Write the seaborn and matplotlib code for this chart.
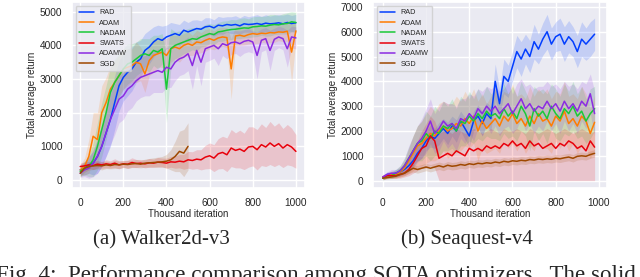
import numpy as np
import pandas as pd
import seaborn as sns
import matplotlib.pyplot as plt

# optimizer names + colours (seaborn "bright")
optims = ['RAD', 'ADAM', 'NADAM', 'SWATS', 'ADAMW', 'SGD']
palette = dict(zip(optims, sns.color_palette('bright', 6)))

# ---------------- Walker2d-v3 (x every 20k iterations) ----------------
x_walker = list(range(0, 1001, 20))
walker_rad = [300, 350, 450, 500, 700, 1000, 1400, 1800, 2300, 2800, 3050, 3200, 3300, 3500, 3600,
              3850, 3950, 4100, 4200, 4150, 4250, 4300, 4350, 4300, 4450, 4400, 4450, 4500, 4480, 4550,
              4570, 4520, 4600, 4580, 4620, 4600, 4620, 4580, 4640, 4620, 4630, 4650, 4620, 4660, 4640,
              4650, 4670, 4640, 4680, 4650, 4670]
walker_adam = [300, 400, 700, 1300, 1200, 2000, 2300, 2700, 2900, 3100, 3300, 3350, 3400, 3500, 3450,
               3150, 3550, 3700, 3750, 3800, 3700, 3900, 3950, 3900, 4000, 4050, 4000, 4100, 4080, 4150,
               4200, 4150, 4220, 4250, 4230, 3300, 4280, 4300, 4270, 4320, 4350, 4330, 4360, 4350, 4380,
               4370, 4400, 4390, 4420, 3800, 4430]
walker_nadam = [250, 350, 400, 600, 1000, 1500, 2000, 2600, 2900, 3100, 3300, 3450, 3500, 3600, 3700,
                3750, 3700, 3850, 3800, 3900, 2700, 3900, 4000, 4050, 4100, 4150, 4200, 4180, 4250, 4300,
                4350, 4320, 4400, 4420, 4450, 4470, 4480, 4500, 4520, 4510, 4550, 4560, 4580, 4570, 4600,
                4620, 4610, 4640, 4650, 4700, 4680]
walker_swats = [400, 420, 450, 430, 470, 450, 480, 460, 500, 450, 480, 470, 520, 490, 500,
                480, 510, 500, 530, 520, 500, 540, 530, 560, 540, 600, 580, 620, 600, 680,
                720, 650, 780, 820, 750, 950, 880, 920, 850, 980, 1000, 900, 1050, 980, 1100,
                1000, 1080, 950, 1050, 980, 850]
walker_adamw = [200, 300, 350, 500, 700, 1000, 1400, 1800, 2100, 2400, 2500, 2700, 2800, 2950, 3050,
                3100, 3150, 3200, 3250, 3200, 3350, 3300, 3500, 3600, 3650, 3750, 3400, 3850, 3500, 3900,
                3950, 4000, 3900, 4050, 4000, 4080, 4100, 4050, 4120, 4150, 4100, 3700, 4150, 4200, 3850,
                4180, 4250, 4200, 3900, 4250, 4220]
walker_sgd = [200, 350, 400, 420, 430, 420, 450, 430, 460, 450, 470, 460, 480, 490, 470,
              500, 510, 520, 530, 540, 560, 600, 700, 850, 800, 1000]

# half-width of the shaded runs
walker_rad_sd = [150, 200, 250, 350, 500, 600, 700, 800, 800, 750, 700, 700, 650, 600, 550,
                 500, 500, 450, 400, 420, 350, 380, 300, 320, 300, 280, 300, 260, 250, 270,
                 250, 240, 260, 250, 230, 250, 260, 240, 250, 230, 250, 260, 240, 250, 230,
                 250, 240, 260, 250, 240, 250]
walker_adam_sd = [150, 250, 500, 700, 800, 800, 750, 700, 650, 600, 600, 550, 500, 600, 500,
                  550, 450, 500, 400, 450, 500, 400, 350, 400, 350, 350, 300, 350, 300, 320,
                  300, 280, 300, 280, 300, 900, 280, 300, 260, 280, 300, 280, 260, 280, 300,
                  280, 260, 280, 300, 900, 280]
walker_nadam_sd = [150, 200, 300, 500, 700, 800, 800, 750, 700, 650, 600, 600, 550, 500, 500,
                   450, 500, 450, 500, 450, 1000, 600, 400, 380, 350, 350, 330, 350, 300, 320,
                   300, 300, 280, 300, 280, 300, 280, 300, 300, 280, 300, 300, 280, 300, 320,
                   300, 280, 300, 320, 300, 300]
walker_swats_sd = [100, 120, 100, 120, 110, 100, 120, 110, 130, 120, 100, 120, 140, 120, 110,
                   120, 130, 120, 140, 130, 150, 160, 180, 200, 220, 250, 260, 280, 300, 350,
                   380, 400, 450, 480, 500, 550, 520, 560, 540, 600, 580, 600, 620, 580, 640,
                   600, 620, 580, 600, 560, 500]
walker_adamw_sd = [120, 200, 300, 400, 500, 600, 700, 750, 750, 700, 700, 650, 650, 600, 600,
                   600, 650, 600, 650, 600, 600, 550, 550, 500, 500, 500, 700, 450, 700, 400,
                   400, 380, 500, 350, 400, 350, 340, 380, 350, 340, 330, 700, 340, 330, 600,
                   330, 320, 330, 550, 320, 330]
walker_sgd_sd = [100, 120, 100, 110, 100, 120, 110, 100, 120, 110, 100, 120, 110, 120, 110,
                 120, 130, 140, 150, 160, 200, 300, 450, 600, 700, 700]

# ---------------- Seaquest-v4 ----------------
x_sea = list(range(0, 981, 20))
sea_rad = [100, 250, 250, 300, 350, 450, 600, 800, 1100, 1300, 1600, 1800, 1700, 1900, 2100,
           1900, 2200, 2000, 2400, 2100, 1800, 2400, 2600, 2300, 2700, 2500, 4000, 3100, 4200, 4000,
           4600, 5200, 4900, 5300, 5000, 5600, 5300, 5700, 6000, 5500, 5800, 5900, 5500, 5800, 5600,
           5200, 5700, 5500, 5700, 5900]
sea_adam = [100, 200, 250, 250, 350, 500, 800, 1100, 1400, 1500, 1700, 1900, 1800, 2000, 2200,
            2000, 2100, 2300, 2200, 2500, 2300, 2600, 2000, 2400, 2100, 2300, 2500, 2200, 2600, 2400,
            2700, 2300, 2500, 2200, 2600, 2300, 2700, 2400, 2500, 2200, 2600, 2400, 2800, 2300, 2500,
            2200, 2600, 2400, 1900, 2350]
sea_nadam = [100, 200, 200, 300, 400, 600, 900, 1200, 1500, 1600, 1900, 1700, 2000, 1900, 2200,
             2100, 2300, 2000, 2400, 2300, 2600, 2400, 2700, 2500, 2800, 2600, 2700, 2500, 2900, 2600,
             2800, 2500, 3000, 2700, 2200, 2900, 2600, 2800, 2500, 3000, 2700, 2500, 2900, 2700, 3000,
             2600, 2800, 2400, 2700, 2900]
sea_swats = [150, 200, 200, 200, 250, 300, 450, 700, 1000, 1300, 1400, 1800, 1600, 900, 1000,
             1100, 1000, 1200, 1100, 1000, 1300, 1200, 1300, 1200, 1400, 1300, 1400, 1300, 1500, 1400,
             1600, 1400, 1500, 1300, 1600, 1400, 1500, 1300, 1400, 1500, 1300, 1500, 1400, 1600, 1500,
             1300, 1400, 1200, 1600, 1350]
sea_adamw = [150, 250, 300, 300, 400, 600, 900, 1200, 1500, 1700, 2000, 2400, 1900, 2100, 2400,
             2200, 2300, 2100, 2500, 2400, 2700, 2500, 2900, 2700, 3000, 2800, 3000, 2700, 2900, 3100,
             2700, 3000, 3300, 2900, 3100, 2800, 3000, 2900, 3200, 2900, 3100, 2800, 3200, 2900, 3100,
             2800, 3200, 3000, 3500, 2700]
sea_sgd = [100, 120, 150, 180, 250, 300, 400, 500, 450, 500, 550, 500, 550, 600, 550,
           620, 580, 600, 650, 620, 680, 650, 700, 680, 720, 700, 750, 720, 780, 750,
           800, 780, 820, 800, 850, 830, 870, 850, 880, 860, 900, 880, 920, 950, 900,
           980, 1000, 980, 1050, 1100]

sea_rad_sd = [80, 100, 120, 150, 150, 200, 250, 300, 350, 400, 400, 450, 400, 450, 400,
              450, 400, 450, 400, 450, 450, 400, 450, 500, 450, 500, 700, 600, 700, 650,
              600, 650, 700, 600, 650, 700, 600, 650, 700, 650, 600, 650, 700, 650, 600,
              650, 700, 650, 700, 650]
sea_adam_sd = [80, 100, 150, 150, 200, 300, 500, 700, 800, 900, 1000, 1100, 1000, 1100, 1000,
               1100, 1000, 1100, 1000, 1100, 1000, 1100, 1200, 1100, 1000, 1100, 1200, 1100, 1000, 1100,
               1200, 1100, 1000, 1100, 1200, 1100, 1000, 1100, 1200, 1100, 1000, 1100, 1200, 1100, 1000,
               1100, 1200, 1100, 1000, 1100]
sea_nadam_sd = [80, 100, 120, 150, 200, 300, 450, 600, 700, 800, 900, 900, 1000, 900, 1000,
                900, 1000, 900, 1000, 900, 1000, 900, 1000, 900, 1000, 900, 1000, 900, 1000, 900,
                1000, 900, 1000, 900, 1000, 900, 1000, 900, 1000, 900, 1000, 900, 1000, 900, 1000,
                900, 1000, 900, 1000, 900]
sea_swats_lo = [50, 100, 100, 100, 100, 150, 200, 300, 400, 500, 500, 600, 500, 0, 0,
                0, 0, 0, 0, 0, 0, 0, 0, 0, 0, 0, 0, 0, 0, 0,
                0, 0, 0, 0, 0, 0, 0, 0, 0, 0, 0, 0, 0, 0, 0,
                0, 0, 0, 0, 0]
sea_swats_hi = [250, 300, 300, 350, 400, 500, 800, 1200, 1600, 2000, 2300, 2600, 2400, 1900, 2000,
                2000, 1900, 2100, 2000, 1900, 2000, 2100, 2000, 1900, 2000, 2100, 2000, 1900, 2100, 2000,
                2000, 2100, 2000, 1900, 2100, 2000, 1900, 2000, 2100, 2000, 1900, 2000, 2100, 2000, 1900,
                2000, 2100, 2000, 1900, 2000]
sea_adamw_sd = [80, 100, 150, 150, 200, 300, 500, 600, 700, 800, 900, 900, 800, 900, 800,
                900, 800, 900, 800, 900, 800, 900, 800, 900, 800, 900, 800, 900, 800, 900,
                800, 900, 800, 900, 800, 900, 800, 900, 800, 900, 800, 900, 800, 900, 800,
                900, 800, 900, 800, 900]
sea_sgd_sd = [50, 60, 60, 80, 100, 100, 120, 150, 150, 150, 150, 150, 150, 150, 150,
              150, 150, 150, 150, 150, 150, 150, 150, 150, 150, 150, 150, 150, 150, 150,
              150, 150, 150, 150, 150, 150, 150, 150, 150, 150, 150, 150, 150, 150, 150,
              150, 150, 150, 150, 150]


def long_df(x, series):
    rows = []
    for name, vals in series.items():
        rows.append(pd.DataFrame({'iter': x[:len(vals)], 'ret': vals, 'opt': name}))
    return pd.concat(rows, ignore_index=True)


walker = {'RAD': walker_rad, 'ADAM': walker_adam, 'NADAM': walker_nadam,
          'SWATS': walker_swats, 'ADAMW': walker_adamw, 'SGD': walker_sgd}
walker_sd = {'RAD': walker_rad_sd, 'ADAM': walker_adam_sd, 'NADAM': walker_nadam_sd,
             'SWATS': walker_swats_sd, 'ADAMW': walker_adamw_sd, 'SGD': walker_sgd_sd}
sea = {'RAD': sea_rad, 'ADAM': sea_adam, 'NADAM': sea_nadam,
       'SWATS': sea_swats, 'ADAMW': sea_adamw, 'SGD': sea_sgd}
sea_sd = {'RAD': sea_rad_sd, 'ADAM': sea_adam_sd, 'NADAM': sea_nadam_sd,
          'ADAMW': sea_adamw_sd, 'SGD': sea_sgd_sd}

sns.set_theme(style='darkgrid')
plt.rcParams['font.family'] = ['Liberation Sans', 'DejaVu Sans']

f = plt.figure(figsize=(6.4, 2.77), dpi=100)
ax1 = f.add_axes([0.1125, 0.321, 0.364, 0.672])
ax2 = f.add_axes([0.583, 0.321, 0.366, 0.672])

for ax, x, series, sd in [(ax1, x_walker, walker, walker_sd), (ax2, x_sea, sea, sea_sd)]:
    # shaded spread first, lines on top
    for name in optims:
        xx = np.array(x[:len(series[name])])
        m = np.array(series[name])
        if name in sd:
            lo = np.clip(m - np.array(sd[name]), 0, None)
            hi = m + np.array(sd[name])
        else:
            lo, hi = np.array(sea_swats_lo), np.array(sea_swats_hi)
        ax.fill_between(xx, lo, hi, color=palette[name], alpha=0.16, lw=0)
    sns.lineplot(data=long_df(x, series), x='iter', y='ret', hue='opt', palette=palette,
                 hue_order=optims, linewidth=1.1, errorbar=None, ax=ax)
    ax.set_xlabel('Thousand iteration', fontsize=7, labelpad=1)
    ax.set_ylabel('Total average return', fontsize=7, labelpad=2)
    ax.tick_params(labelsize=7.3, pad=1)
    ax.set_xticks([0, 200, 400, 600, 800, 1000])
    ax.legend(loc='upper left', fontsize=5.2, handlelength=2.0, labelspacing=0.45,
              borderpad=0.5, frameon=True, title=None)

ax1.set_xlim(-38, 1042)
ax1.set_ylim(-240, 5290)
ax1.set_yticks(range(0, 5001, 1000))
ax2.set_xlim(-45, 1039)
ax2.set_ylim(-300, 7200)
ax2.set_yticks(range(0, 7001, 1000))

serif = ['Liberation Serif', 'DejaVu Serif']
f.text(0.253, 0.118, '(a) Walker2d-v3', fontsize=15, family=serif, ha='center', va='baseline')
f.text(0.73, 0.118, '(b) Seaquest-v4', fontsize=15, family=serif, ha='center', va='baseline')
f.text(-0.006, -0.015, 'Fig. 4:  Performance comparison among SOTA optimizers.  The solid',
       fontsize=16.6, family=serif, ha='left', va='baseline')

f.savefig('out.png', dpi=100)
